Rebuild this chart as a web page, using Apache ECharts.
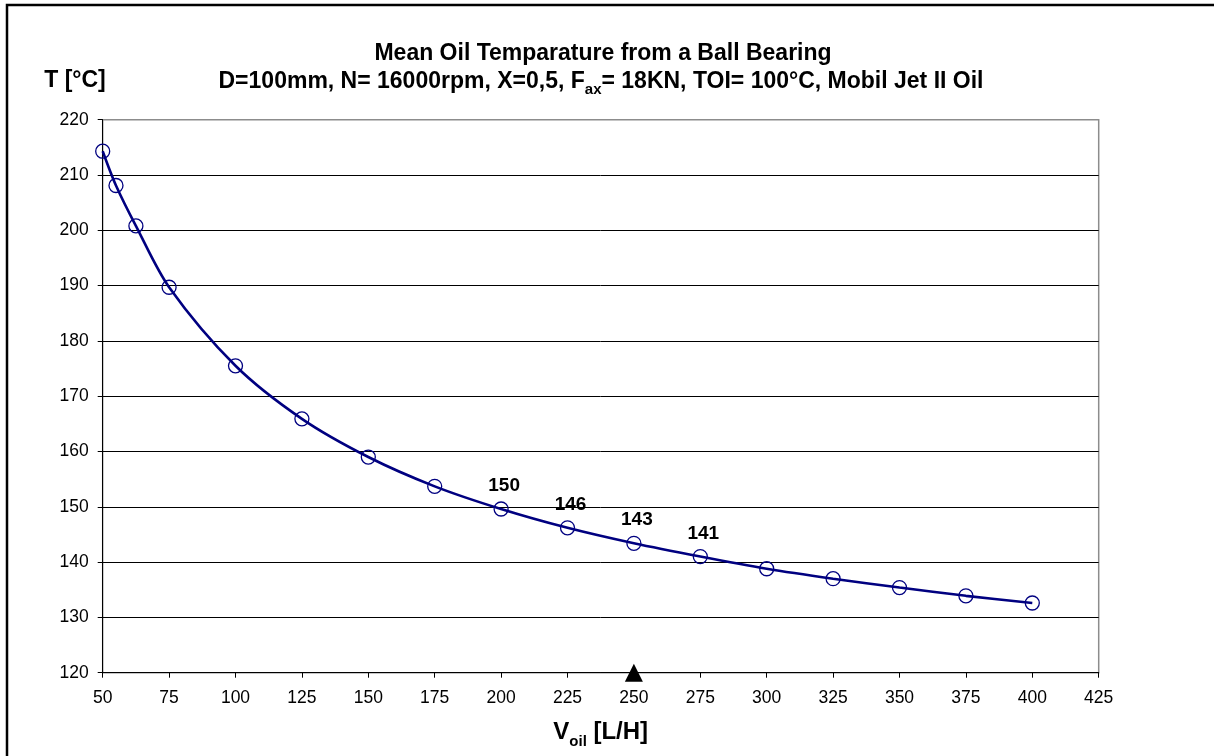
<!DOCTYPE html>
<html>
<head>
<meta charset="utf-8">
<script src="https://cdn.jsdelivr.net/npm/echarts@6/dist/echarts.min.js"></script>
<style>
  html, body { margin: 0; padding: 0; background: #fff; }
  #chart { width: 1214px; height: 756px; }
</style>
</head>
<body>
<div id="chart"></div>
<script>
// Oil flow through the bearing [L/H]
const flowRates = [50, 55, 62.5, 75, 100, 125, 150, 175, 200, 225, 250, 275, 300, 325, 350, 375, 400];
// Mean oil temperature [°C] at each flow rate
const meanTemps = [214.3, 208.1, 200.8, 189.7, 175.5, 165.9, 159.0, 153.7, 149.6, 146.2, 143.4, 141.0, 138.8, 137.0, 135.4, 133.9, 132.6];
// Flow rates whose temperature is printed next to the point
const labelledFlows = [200, 225, 250, 275];
// Operating point marked on the flow axis
const operatingFlow = [250];

// Axis ranges (ticks run from min in steps of interval)
const xRange = { min: 50, max: 425, interval: 25 };
const yRange = { min: 120, max: 220, interval: 10 };

const FONT = '"Liberation Sans", Arial, sans-serif';

const chart = echarts.init(document.getElementById('chart'), null, { renderer: 'canvas' });

const curveData = flowRates.map((f, i) => ({
  value: [f, meanTemps[i]],
  label: { show: labelledFlows.includes(f) }
}));

const option = {
  backgroundColor: '#fff',
  animation: false,
  grid: {
    left: 102.7, right: 115.3, top: 119.7, bottom: 83.3,
    show: true, borderColor: '#8c8c8c', borderWidth: 1.5, backgroundColor: '#fff'
  },
  xAxis: {
    type: 'value',
    min: xRange.min, max: xRange.max, interval: xRange.interval,
    axisLine: { show: true, onZero: false, lineStyle: { color: '#000', width: 1 } },
    axisTick: { show: true, inside: false, length: 5, lineStyle: { color: '#000' } },
    axisLabel: { color: '#000', fontSize: 17.5, fontFamily: FONT, margin: 16 },
    splitLine: { show: false },
    name: '{v|V}{s|oil}{v| [L/H]}',
    nameLocation: 'middle',
    nameGap: 48,
    nameTextStyle: {
      rich: {
        v: { fontSize: 24, fontWeight: 'bold', fontFamily: FONT, color: '#000', padding: [0, 0, 5, 0] },
        s: { fontSize: 15, fontWeight: 'bold', fontFamily: FONT, color: '#000', verticalAlign: 'bottom' }
      }
    }
  },
  yAxis: {
    type: 'value',
    min: yRange.min, max: yRange.max, interval: yRange.interval,
    axisLine: { show: true, onZero: false, lineStyle: { color: '#000', width: 1 } },
    axisTick: { show: true, inside: false, length: 5, lineStyle: { color: '#000' } },
    axisLabel: { color: '#000', fontSize: 17.5, fontFamily: FONT, margin: 14 },
    splitLine: { show: true, showMaxLine: false, lineStyle: { color: '#000', width: 1 } }
  },
  series: [
    {
      type: 'line',
      data: curveData,
      smooth: 0.3,
      symbol: 'circle',
      symbolSize: 14,
      itemStyle: { color: 'rgba(0,0,0,0)', borderColor: '#000080', borderWidth: 1.3 },
      lineStyle: { color: '#000080', width: 2.6 },
      label: {
        position: 'top',
        distance: 6,
        offset: [3, 0],
        color: '#000',
        fontSize: 19,
        fontWeight: 'bold',
        fontFamily: FONT,
        formatter: p => String(Math.round(p.value[1]))
      },
      emphasis: { disabled: true },
      z: 3
    },
    {
      type: 'scatter',
      data: operatingFlow.map(f => [f, yRange.min]),
      symbol: 'triangle',
      symbolSize: [18, 18],
      itemStyle: { color: '#000', opacity: 1 },
      clip: false,
      silent: true,
      z: 5
    }
  ],
  graphic: [
    {
      type: 'text', x: 603, y: 54, silent: true,
      style: {
        text: 'Mean Oil Temparature from a Ball Bearing',
        font: 'bold 23px ' + FONT, fill: '#000', align: 'center', verticalAlign: 'middle'
      }
    },
    {
      type: 'text', x: 601, y: 84, silent: true,
      style: {
        text: '{m|D=100mm, N= 16000rpm, X=0,5, F}{s|ax}{m|= 18KN, TOI= 100°C, Mobil Jet II Oil}',
        align: 'center', verticalAlign: 'middle',
        rich: {
          m: { fontSize: 23, fontWeight: 'bold', fontFamily: FONT, fill: '#000', padding: [0, 0, 4, 0] },
          s: { fontSize: 15, fontWeight: 'bold', fontFamily: FONT, fill: '#000', verticalAlign: 'bottom' }
        }
      }
    },
    {
      type: 'text', x: 75, y: 81, silent: true,
      style: {
        text: 'T [°C]',
        font: 'bold 23px ' + FONT, fill: '#000', align: 'center', verticalAlign: 'middle'
      }
    },
    {
      type: 'rect', silent: true,
      shape: { x: 7, y: 5, width: 1400, height: 1000 },
      style: { fill: 'none', stroke: '#000', lineWidth: 2.5 }
    }
  ]
};

chart.setOption(option);
</script>
</body>
</html>
